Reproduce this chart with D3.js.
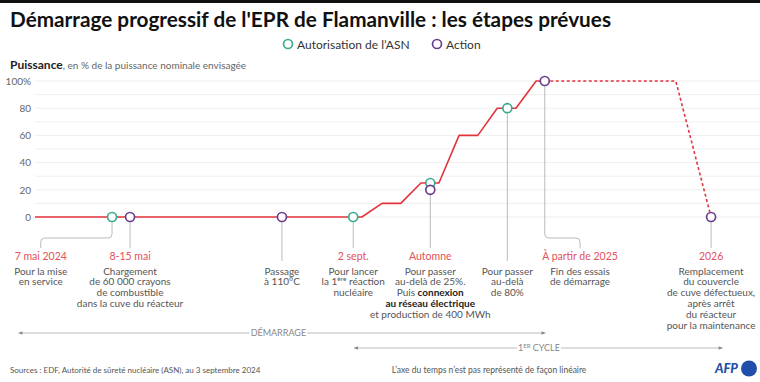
<!DOCTYPE html>
<html><head><meta charset="utf-8">
<script src="https://cdn.jsdelivr.net/npm/d3@7"></script>
<style>
body{margin:0;background:#fff;}
svg{display:block;font-family:"Lato","Noto Sans",sans-serif;}
</style></head>
<body><svg id="c" width="760" height="382"></svg>
<script>
// ---------- DATA ----------
// timeline position (non-linear axis, arbitrary units 0-100) and power (%)
const solidPos   = [0, 45.4, 48.2, 50.8, 53.6, 56.1, 58.9, 61.5, 64.2, 66.8, 69.6, 70.8];
const solidPower = [0, 0,    10,   10,   25,   25,   60,   60,   80,   80,   100,  100];
const dashPos    = [70.8, 89.0, 93.9];
const dashPower  = [100,  100,  0];

const markerPos   = [10.7, 13.2, 34.3, 44.2, 54.9, 54.9, 65.6, 70.8, 93.9];
const markerPower = [0,    0,    0,    0,    25,   20,   80,   100,  0];
const markerType  = ["asn","action","action","asn","asn","action","asn","action","action"];

const eventPos   = [10.7, 13.2, 34.3, 44.2, 54.9, 65.6, 70.8, 93.9];
const eventPower = [0, 0, 0, 0, 20, 80, 100, 0];
const labelPos   = [0.8, 13.2, 34.3, 44.2, 54.9, 65.6, 75.7, 93.9];
const eventDates = ["7 mai 2024", "8-15 mai", "", "2 sept.", "Automne", "", "À partir de 2025", "2026"];
const eventTexts = [
  ["Pour la mise","en service"],
  ["Chargement","de 60 000 crayons","de combustible","dans la cuve du réacteur"],
  ["Passage","à 110°C"],
  ["Pour lancer","la 1|ère| réaction","nucléaire"],
  ["Pour passer","au-delà de 25%.","Puis *connexion*","*au réseau électrique*","et production de 400 MWh"],
  ["Pour passer","au-delà","de 80%"],
  ["Fin des essais","de démarrage"],
  ["Remplacement","du couvercle","de cuve défectueux,","après arrêt","du réacteur","pour la maintenance"]
];

const yTicks = [0, 20, 40, 60, 80, 100];
const yGrid  = [0,10,20,30,40,50,60,70,80,90,100];

const phaseNames = ["DÉMARRAGE", "1ER CYCLE"];
const phaseStart = [-2.3, 44.3];
const phaseEnd   = [70.9, 95.5];
const phaseLabel = [33.8, 70.0];

// ---------- STYLE ----------
const RED = "#e3343c", GREEN = "#3aaa8c", PURPLE = "#6a3d90", DATE = "#e3505a", TXT = "#555";
const FS = 10;

const svg = d3.select("#c");
const x = d3.scaleLinear().domain([0, 100]).range([35, 755]);
const y = d3.scaleLinear().domain([0, 100]).range([217, 81]);

// top bar
svg.append("rect").attr("x",0).attr("y",0).attr("width",760).attr("height",3).attr("fill","#111");

// title
svg.append("text").attr("x",10).attr("y",27)
  .attr("font-size",21).attr("font-weight",700).attr("fill","#111")
  .attr("textLength",601).attr("lengthAdjust","spacingAndGlyphs")
  .text("Démarrage progressif de l'EPR de Flamanville : les étapes prévues");

// legend
const leg = [{t:"asn",label:"Autorisation de l’ASN",x:288},{t:"action",label:"Action",x:437}];
leg.forEach(l=>{
  svg.append("circle").attr("cx",l.x).attr("cy",44).attr("r",4.5).attr("fill","#fff")
    .attr("stroke", l.t==="asn"?GREEN:PURPLE).attr("stroke-width",1.7);
  svg.append("text").attr("x",l.x+9).attr("y",48.5).attr("font-size",12).attr("fill","#333").text(l.label);
});

// y title
const yt = svg.append("text").attr("x",10).attr("y",69).attr("fill","#222");
yt.append("tspan").attr("font-size",12).attr("font-weight",700).text("Puissance");
yt.append("tspan").attr("font-size",10).attr("fill","#666").text(", en % de la puissance nominale envisagée");

// grid
svg.append("g").selectAll("line").data(yGrid).join("line")
  .attr("x1",x(0)).attr("x2",760).attr("y1",d=>y(d)).attr("y2",d=>y(d))
  .attr("stroke","#efefef").attr("stroke-width",1);

// y axis labels
const yAxis = d3.axisLeft(y).tickValues(yTicks).tickSize(0).tickPadding(0)
  .tickFormat(d=> d===100 ? "100%" : d);
const ga = svg.append("g").attr("transform","translate(31,0)").call(yAxis);
ga.select(".domain").remove();
ga.selectAll("text").attr("font-size",10).attr("fill","#666").attr("font-family","Lato, sans-serif").attr("dy","0.32em");

// connectors
const connTop = (i)=> y(eventPower[i]) + 4.5;
const connG = svg.append("g").attr("fill","none").attr("stroke","#bbb").attr("stroke-width",1);
eventPos.forEach((p,i)=>{
  const x0 = x(p), x1 = x(labelPos[i]);
  const endY = eventDates[i] ? 248 : 261;
  let d;
  if (Math.abs(x0-x1) < 0.5) {
    d = `M${x0},${connTop(i)}V${endY}`;
  } else {
    const s = x1 < x0 ? -1 : 1, r = 4, mid = 238;
    d = `M${x0},${connTop(i)}V${mid-r}Q${x0},${mid} ${x0+s*r},${mid}H${x1-s*r}Q${x1},${mid} ${x1},${mid+r}V${endY}`;
  }
  connG.append("path").attr("d",d);
});

// line
const line = d3.line().x(d=>x(d[0])).y(d=>y(d[1]));
svg.append("path").datum(d3.zip(solidPos, solidPower)).attr("d",line)
  .attr("fill","none").attr("stroke",RED).attr("stroke-width",1.6).attr("stroke-linejoin","round");
svg.append("path").datum(d3.zip(dashPos, dashPower)).attr("d",line)
  .attr("fill","none").attr("stroke",RED).attr("stroke-width",1.6).attr("stroke-dasharray","3,2.5");

// markers
svg.append("g").selectAll("circle").data(d3.range(markerPos.length)).join("circle")
  .attr("cx",i=>x(markerPos[i])).attr("cy",i=>y(markerPower[i])).attr("r",4.5)
  .attr("fill","#fff").attr("stroke",i=>markerType[i]==="asn"?GREEN:PURPLE).attr("stroke-width",1.7);

// labels
eventPos.forEach((p,i)=>{
  const lx = x(labelPos[i]);
  if (eventDates[i]) {
    svg.append("text").attr("x",lx).attr("y",260).attr("text-anchor","middle")
      .attr("font-size",10.5).attr("fill",DATE).text(eventDates[i]);
  }
  eventTexts[i].forEach((ln,j)=>{
    const t = svg.append("text").attr("x",lx).attr("y",274.5 + j*10.8).attr("text-anchor","middle")
      .attr("font-size",FS).attr("fill",TXT);
    if (ln.includes("|")) {
      const parts = ln.split("|");
      t.append("tspan").text(parts[0]);
      t.append("tspan").attr("font-size",6.5).attr("dy",-4).text(parts[1]);
      t.append("tspan").attr("dy",4).text(parts[2]);
    } else {
      ln.split("*").forEach((seg,k)=>{
        if (!seg) return;
        const ts = t.append("tspan").text(seg);
        if (k % 2 === 1) ts.attr("font-weight",700).attr("fill","#222");
      });
    }
  });
});

// phase arrows
const phaseY = [333, 348];
phaseNames.forEach((n,i)=>{
  const yy = phaseY[i], a = x(phaseStart[i]), b = x(phaseEnd[i]), c = x(phaseLabel[i]);
  const g = svg.append("g");
  g.append("line").attr("x1",a).attr("x2",b).attr("y1",yy).attr("y2",yy).attr("stroke","#aaa").attr("stroke-width",0.8);
  g.append("path").attr("d",`M${a},${yy}l4,-1.8v3.6z`).attr("fill","#888");
  g.append("path").attr("d",`M${b},${yy}l-4,-1.8v3.6z`).attr("fill","#888");
  const t = g.append("text").attr("x",c).attr("y",yy+3).attr("text-anchor","middle").attr("font-size",9).attr("fill","#888");
  if (n.startsWith("1ER")) {
    t.append("tspan").text("1");
    t.append("tspan").attr("font-size",6).attr("dy",-3.5).text("ER");
    t.append("tspan").attr("dy",3.5).text(" CYCLE");
  } else t.text(n);
  const bb = t.node().getBBox();
  g.insert("rect","text").attr("x",bb.x-1).attr("y",bb.y).attr("width",bb.width+2).attr("height",bb.height).attr("fill","#fff");
});

// footer
svg.append("text").attr("x",10).attr("y",373).attr("font-size",8).attr("fill","#555")
  .text("Sources : EDF, Autorité de sûreté nucléaire (ASN), au 3 septembre 2024");
svg.append("text").attr("x",489).attr("y",373).attr("text-anchor","middle").attr("font-size",8.5).attr("fill","#555")
  .text("L’axe du temps n’est pas représenté de façon linéaire");
svg.append("text").attr("x",738).attr("y",373).attr("text-anchor","end").attr("font-size",13)
  .attr("font-weight",900).attr("font-style","italic").attr("fill","#1f4fa8").text("AFP");
svg.append("circle").attr("cx",749).attr("cy",368.5).attr("r",8).attr("fill","#1f4fa8");
</script></body></html>
